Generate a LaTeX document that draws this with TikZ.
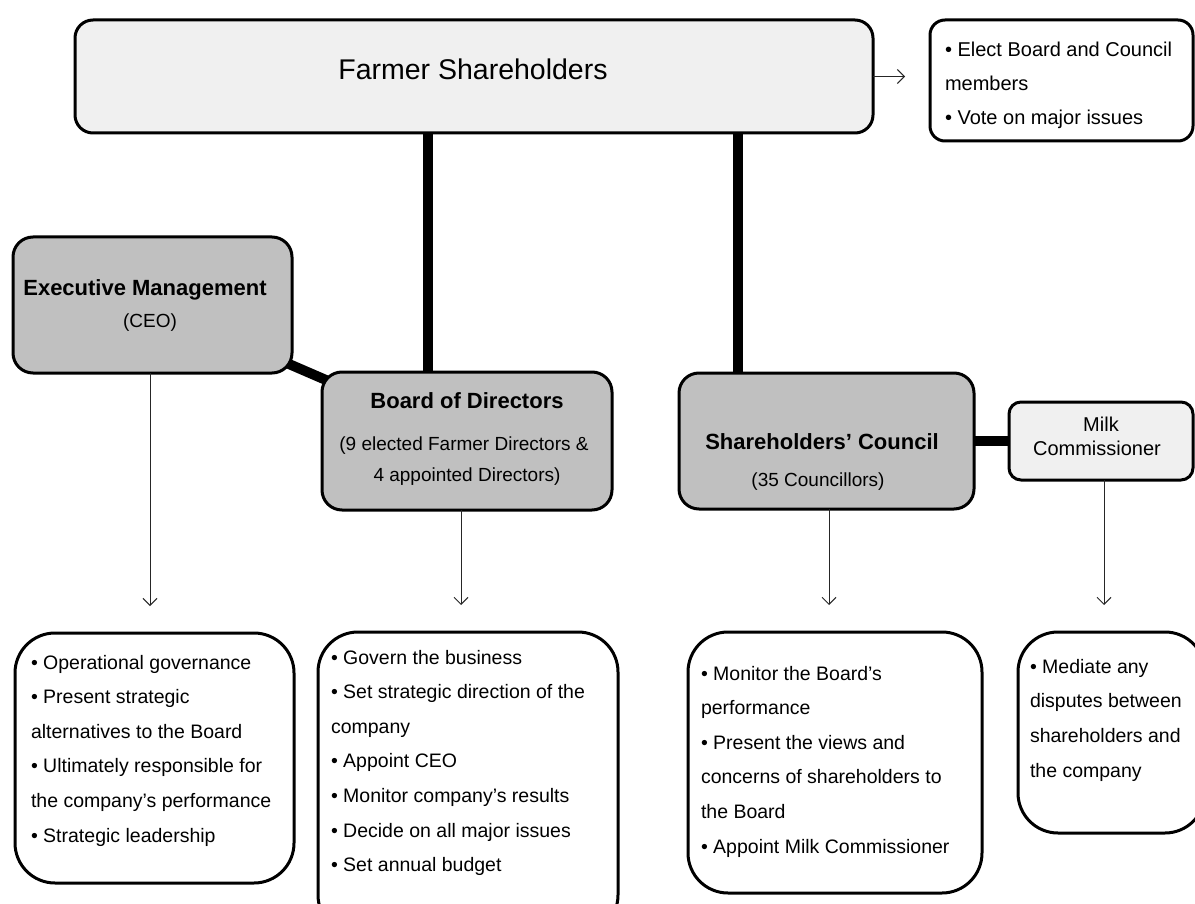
\documentclass[tikz,border=0pt]{standalone}
\usepackage{fontspec}
\setmainfont{Liberation Sans}
\usetikzlibrary{arrows.meta,calc,backgrounds}
\definecolor{paleFill}{HTML}{F0F0F0}
\definecolor{greyFill}{HTML}{C0C0C0}
\begin{document}
\begin{tikzpicture}[x=1pt,y=-1pt,
  frame/.style={draw=black, line width=3pt, rectangle, inner sep=0pt, outer sep=0pt},
  palebox/.style={frame, fill=paleFill},
  greybox/.style={frame, fill=greyFill, rounded corners=20pt},
  notebox/.style={frame, fill=white, rounded corners=40pt},
  link/.style={line width=10pt, draw=black},
  flow/.style={line width=1pt, draw=black!85, -{Straight Barb[length=7pt,width=14pt]}},
  label/.style={inner sep=0pt, outer sep=0pt, anchor=base},
  % multi-line blocks: the base anchor sits on the last line
  bullets/.style={inner sep=0pt, outer sep=0pt, align=left, anchor=base west,
    font=\fontsize{19.5}{34.6}\selectfont},
  title/.style={label, font=\fontsize{22}{26}\selectfont\bfseries},
  sub/.style={label, font=\fontsize{19}{23}\selectfont}]

\begin{scope}[on background layer]
  \fill[white] (0,0) rectangle (1195,904);
\end{scope}
\useasboundingbox (0,0) rectangle (1195,904);
\clip (0,0) rectangle (1195,904);

% ---- boxes ----
\node[palebox, rounded corners=18pt, minimum width=798, minimum height=113] (fs) at (474,76.5) {};
\node[frame, fill=white, rounded corners=15pt, minimum width=263, minimum height=121] (tr) at (1061.5,80.5) {};
\node[greybox, minimum width=279, minimum height=136] (exec) at (152.5,305) {};
\node[greybox, minimum width=290, minimum height=138] (board) at (467,441) {};
\node[greybox, minimum width=295, minimum height=136] (council) at (826.5,441) {};
\node[palebox, rounded corners=12pt, minimum width=184, minimum height=78] (milk) at (1101,441) {};
\node[notebox, minimum width=279, minimum height=250] (eb) at (154.5,758) {};
\node[notebox, minimum width=300, minimum height=303] (bb) at (468,783.5) {};
\node[notebox, minimum width=294, minimum height=261] (cb) at (835,762.5) {};
\node[notebox, minimum width=187, minimum height=201] (mb) at (1111.5,732.5) {};

% ---- heavy links behind the boxes ----
\coordinate (stemB) at (428,0);
\coordinate (stemC) at (738,0);
\begin{scope}[on background layer]
  \draw[link] (fs.south -| stemB) -- (board.north -| stemB);
  \draw[link] (fs.south -| stemC) -- (council.north -| stemC);
  \draw[link] (exec.center) -- (board.center);
  \draw[link] (council.center) -- (milk.center);
\end{scope}

% ---- thin arrows ----
\draw[flow, shorten >=25pt] (fs.east) -- (fs.east -| tr.west);
\draw[flow, shorten >=27pt] ($(exec.south)+(-2.5,0)$) -- ($(eb.north)+(-4.5,0)$);
\draw[flow, shorten >=27pt] ($(board.south)+(-6,0)$) -- ($(bb.north)+(-7,0)$);
\draw[flow, shorten >=27pt] ($(council.south)+(2.5,0)$) -- ($(cb.north)+(-6,0)$);
\draw[flow, shorten >=27pt] ($(milk.south)+(3,0)$) -- ($(mb.north)+(-7.5,0)$);

% ---- texts ----
\node[label, font=\fontsize{28.5}{34}\selectfont] (fsT) at (473,79.5) {Farmer Shareholders};

\node[bullets, font=\fontsize{20}{34}\selectfont] (trT) at (945,125)
  {• Elect Board and Council\\members\\• Vote on major issues};

\node[title] (execT) at (145,295) {Executive Management};
\node[sub] (execS) at (150,327) {(CEO)};

\node[title] (boardT) at (467,408) {Board of Directors};
\node[sub] (boardS1) at (464,450) {(9 elected Farmer Directors \&};
\node[sub] (boardS2) at (467,481) {4 appointed Directors)};

\node[title] (councilT) at (822,449) {Shareholders’ Council};
\node[sub] (councilS) at (818,486) {(35 Councillors)};

\node[label, font=\fontsize{20}{24}\selectfont] (milkT1) at (1101,431) {Milk};
\node[label, font=\fontsize{20}{24}\selectfont] (milkT2) at (1097,455) {Commissioner};

\node[bullets] (ebT) at (31,842)
  {• Operational governance\\• Present strategic\\alternatives to the Board\\• Ultimately responsible for\\the company’s performance\\• Strategic leadership};

\node[bullets] (bbT) at (331,871.6)
  {• Govern the business\\• Set strategic direction of the\\company\\• Appoint CEO\\• Monitor company’s results\\• Decide on all major issues\\• Set annual budget};

\node[bullets] (cbT) at (701,853)
  {• Monitor the Board’s\\performance\\• Present the views and\\concerns of shareholders to\\the Board\\• Appoint Milk Commissioner};

\node[bullets] (mbT) at (1030,777)
  {• Mediate any\\disputes between\\shareholders and\\the company};
\end{tikzpicture}
\end{document}
